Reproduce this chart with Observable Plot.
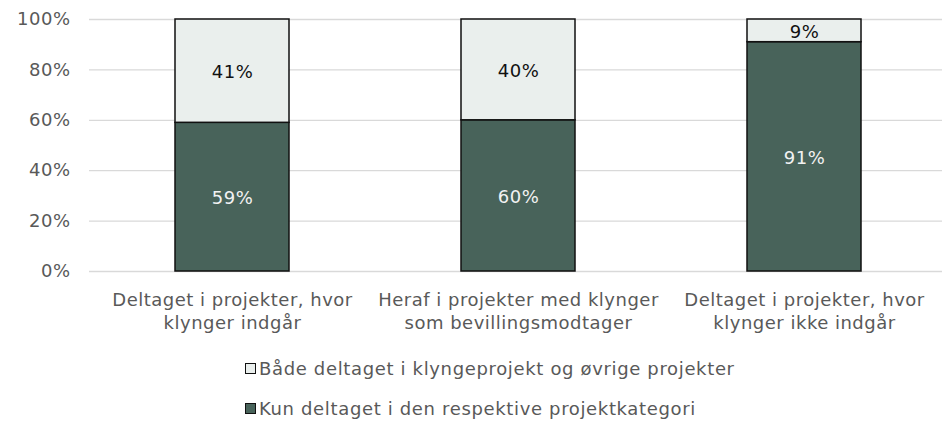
<!DOCTYPE html>
<html>
<head>
<meta charset="utf-8">
<script src="https://cdn.jsdelivr.net/npm/d3@7"></script>
<script src="https://cdn.jsdelivr.net/npm/@observablehq/plot@0.6"></script>
<style>
  html, body { margin: 0; padding: 0; background: #fff; }
  body { width: 942px; height: 421px; overflow: hidden; font-family: "DejaVu Sans", Verdana, sans-serif; }
  .legend { padding-left: 245px; margin-top: 17px; color: #595959; font-size: 18px; letter-spacing: 0.65px; }
  .legend .item { display: flex; align-items: center; height: 22px; margin-bottom: 18px; }
  .legend .sw { width: 11px; height: 11px; border: 1.2px solid #111; margin-right: 3px; box-sizing: border-box; }
</style>
</head>
<body>
<div id="chart"></div>
<div class="legend" id="legend"></div>
<script>
const categories = [
  "Deltaget i projekter, hvor\nklynger indgår",
  "Heraf i projekter med klynger\nsom bevillingsmodtager",
  "Deltaget i projekter, hvor\nklynger ikke indgår"
];
const seriesNames = [
  "Kun deltaget i den respektive projektkategori",
  "Både deltaget i klyngeprojekt og øvrige projekter"
];
const kunValues = [59, 60, 91];
const baadeValues = [41, 40, 9];
const colors = ["#48635a", "#eaefed"];
const textColors = ["#f2f2f2", "#111111"];
const yTicks = [0, 20, 40, 60, 80, 100];

const data = [];
categories.forEach((c, i) => {
  data.push({cat: c, series: seriesNames[0], value: kunValues[i], order: 0});
  data.push({cat: c, series: seriesNames[1], value: baadeValues[i], order: 1});
});

const chart = Plot.plot({
  width: 942,
  height: 340,
  marginLeft: 89,
  marginRight: 0,
  marginTop: 19,
  marginBottom: 69,
  style: {fontFamily: "DejaVu Sans, Verdana, sans-serif", fontSize: "18px", color: "#595959", background: "#fff", letterSpacing: "0.5px"},
  x: {domain: categories, range: [89, 947], paddingInner: 0.6, paddingOuter: 0.3, label: null},
  y: {domain: [0, 100], label: null},
  color: {domain: seriesNames, range: colors},
  marks: [
    Plot.gridY(yTicks, {stroke: "#d9d9d9", strokeOpacity: 1, strokeWidth: 1.3}),
    Plot.axisY({ticks: yTicks, tickSize: 0, tickPadding: 19, tickFormat: d => d + "%", fontSize: 18, fill: "#595959"}),
    Plot.axisX({tickSize: 0, tickPadding: 19, fontSize: 18, fill: "#595959", lineHeight: 1.25}),
    Plot.barY(data, Plot.stackY({x: "cat", y: "value", fill: "series", order: "order", stroke: "#111", strokeWidth: 1.5})),
    Plot.text(data, Plot.stackY({x: "cat", y: "value", order: "order", text: d => d.value + "%", fill: d => textColors[d.order], fontSize: 18, dy: 1}))
  ]
});
document.getElementById("chart").appendChild(chart);

const legend = document.getElementById("legend");
[1, 0].forEach(i => {
  const item = document.createElement("div");
  item.className = "item";
  const sw = document.createElement("span");
  sw.className = "sw";
  sw.style.background = colors[i];
  const lab = document.createElement("span");
  lab.textContent = seriesNames[i];
  item.appendChild(sw);
  item.appendChild(lab);
  legend.appendChild(item);
});
</script>
</body>
</html>
